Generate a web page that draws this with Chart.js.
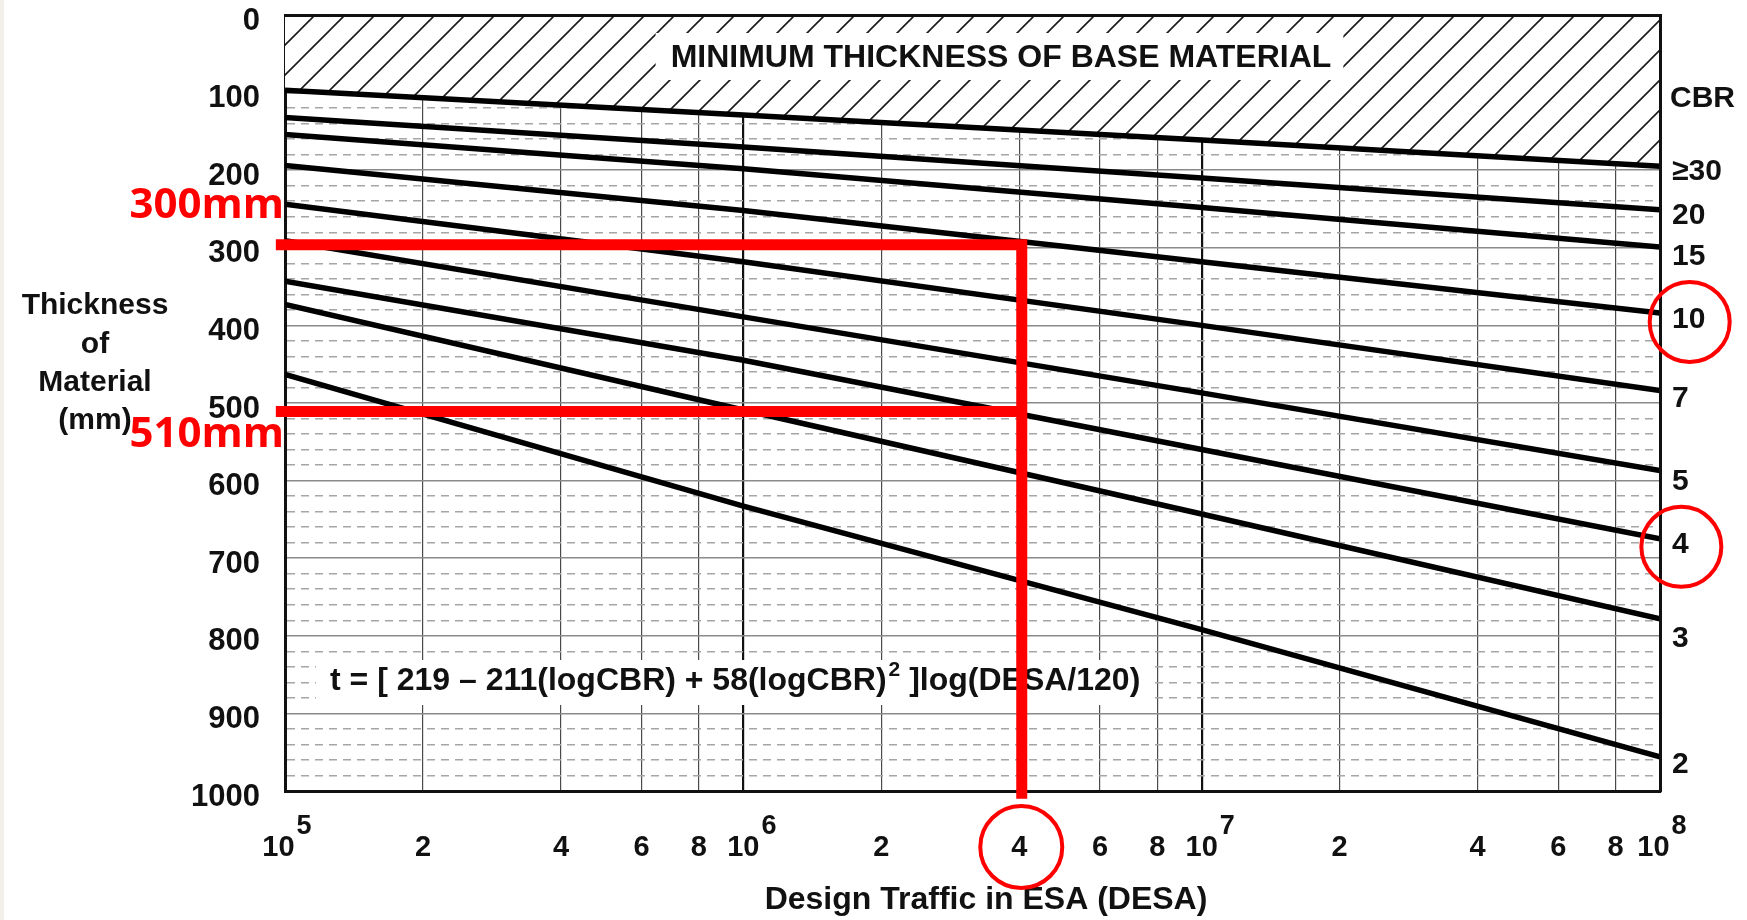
<!DOCTYPE html>
<html>
<head>
<meta charset="utf-8">
<title>Minimum thickness of base material</title>
<script src="https://cdn.jsdelivr.net/npm/chart.js@4.4.1/dist/chart.umd.min.js"></script>
<style>
  html, body { margin: 0; padding: 0; background: #fff; }
  .chart-container { position: relative; width: 1747px; height: 920px; }
</style>
</head>
<body>
<div class="chart-container"><canvas id="chart"></canvas></div>
<script>
var desaPoints = [1e5, 1e6, 1e7, 1e8];

// Thickness of material (mm) for each CBR line, read at desaPoints
var cbrLabels = ['\u226530', '20', '15', '10', '7', '5', '4', '3', '2'];
var cbr30 = [97, 129, 161, 195];
var cbr20 = [132, 170, 210, 251];
var cbr15 = [154, 198, 248, 299];
var cbr10 = [194, 252, 318, 384];
var cbr7 = [244, 318, 400, 484];
var cbr5 = [291, 389, 487, 587];
var cbr4 = [343, 445, 560, 675];
var cbr3 = [373, 509, 643, 778];
var cbr2 = [463, 633, 792, 956];

// x axis ticks (log) and their labels
var desaTicks = [1e5, 2e5, 4e5, 6e5, 8e5, 1e6, 2e6, 4e6, 6e6, 8e6, 1e7, 2e7, 4e7, 6e7, 8e7, 1e8];
var desaTickLabels = ['10^5', '2', '4', '6', '8', '10^6', '2', '4', '6', '8', '10^7', '2', '4', '6', '8', '10^8'];

// worked example drawn in red
var exampleDesa = 4.05e6;
var exampleStartDesa = 0.955e5;
var exampleEndThickness = 1010;
var exampleThickness = [296, 511];
var exampleLabels = ['300mm', '510mm'];
var circledCbr = ['10', '4'];
var circledDesaTick = 4e6;

var FONT = '"Liberation Sans", Arial, sans-serif';
var RED = '#ff0000';

// small vertical nudges for the CBR labels on the right
var cbrLabelOffset = [1, 2, 6, 3, 4, 7, 2, 16, 4];

var cbrSeries = [cbr30, cbr20, cbr15, cbr10, cbr7, cbr5, cbr4, cbr3, cbr2];

function toPoints(values) {
  return desaPoints.map(function (d, i) { return { x: d, y: values[i] }; });
}

function makeHatch(ctx) {
  var c = document.createElement('canvas');
  c.width = 30; c.height = 30;
  var g = c.getContext('2d');
  g.fillStyle = '#fff';
  g.fillRect(0, 0, 30, 30);
  g.strokeStyle = '#1a1a1a';
  g.lineWidth = 1.6;
  g.beginPath();
  g.moveTo(0, 30); g.lineTo(30, 0);
  g.moveTo(-6, 6); g.lineTo(6, -6);
  g.moveTo(24, 36); g.lineTo(36, 24);
  g.stroke();
  return ctx.createPattern(c, 'repeat');
}

function put(ctx, str, x, y, font, align, color) {
  ctx.font = font;
  ctx.textAlign = align;
  ctx.textBaseline = 'middle';
  ctx.fillStyle = color;
  ctx.fillText(str, x, y);
}

function drawBoxes(chart) {
  var ctx = chart.ctx;
  var area = chart.chartArea;
  ctx.save();

  // title over the hatched zone
  var title = 'MINIMUM THICKNESS OF BASE MATERIAL';
  var tf = 'bold 32px ' + FONT;
  ctx.font = tf;
  var tw = ctx.measureText(title).width;
  var cx = area.left + 716, cy = area.top + 43;
  ctx.fillStyle = '#fff';
  ctx.fillRect(cx - tw / 2 - 15, cy - 25, tw + 27, 47);
  put(ctx, title, cx, cy, tf, 'center', '#111');

  // design formula
  var ff = 'bold 32px ' + FONT;
  var sf = 'bold 21px ' + FONT;
  var p1 = 't = [ 219 \u2013 211(logCBR) + 58(logCBR)';
  var p2 = '2';
  var p3 = ' ]log(DESA/120)';
  ctx.font = ff;
  var w1 = ctx.measureText(p1).width;
  var w3 = ctx.measureText(p3).width;
  ctx.font = sf;
  var w2 = ctx.measureText(p2).width;
  var fx = area.left + 45, fy = area.top + 666;
  ctx.fillStyle = '#fff';
  ctx.fillRect(fx - 14, fy - 21, w1 + w2 + w3 + 28, 45);
  put(ctx, p1, fx, fy, ff, 'left', '#111');
  put(ctx, p2, fx + w1 + 2, fy - 11, sf, 'left', '#111');
  put(ctx, p3, fx + w1 + w2 + 2, fy, ff, 'left', '#111');
  ctx.restore();
}

function ring(ctx, x, y, r) {
  ctx.beginPath();
  ctx.arc(x, y, r, 0, Math.PI * 2);
  ctx.strokeStyle = RED;
  ctx.lineWidth = 4;
  ctx.stroke();
}

var chartDecor = {
  id: 'chartDecor',
  beforeDraw: function (chart) {
    var ctx = chart.ctx;
    ctx.save();
    ctx.fillStyle = '#fff';
    ctx.fillRect(0, 0, chart.width, chart.height);
    ctx.fillStyle = '#f3f0ea';
    ctx.fillRect(0, 0, 4, chart.height);
    ctx.restore();
  },
  beforeDatasetDraw: function (chart, args) {
    // the red example lines (datasets 0 and 1) go on top of the boxes
    if (args.index === 1) drawBoxes(chart);
  },
  afterDraw: function (chart) {
    var ctx = chart.ctx;
    var area = chart.chartArea;
    var xs = chart.scales.x, ys = chart.scales.y;
    ctx.save();

    // x tick labels with superscript powers of ten
    var ly = area.bottom + 57;
    var mainF = 'bold 29px ' + FONT, supF = 'bold 27px ' + FONT;
    var circleX = null;
    desaTicks.forEach(function (v, i) {
      var lab = desaTickLabels[i];
      var px = xs.getPixelForValue(v);
      if (lab.indexOf('^') >= 0) {
        var parts = lab.split('^');
        ctx.font = mainF;
        var a = ctx.measureText(parts[0]).width;
        ctx.font = supF;
        var b = ctx.measureText(parts[1]).width;
        var edge = (i === 0 || i === desaTicks.length - 1);
        var x0 = edge ? px - (a + b + 2) / 2 + 2 : px - a / 2;
        put(ctx, parts[0], x0, ly, mainF, 'left', '#111');
        put(ctx, parts[1], x0 + a + 2, ly - 21, supF, 'left', '#111');
      } else {
        put(ctx, lab, px, ly, mainF, 'center', '#111');
      }
      if (v === circledDesaTick) circleX = px;
    });

    // axis titles
    put(ctx, 'Design Traffic in ESA (DESA)', area.left + 701, area.bottom + 109, 'bold 32px ' + FONT, 'center', '#111');
    ['Thickness', 'of', 'Material', '(mm)'].forEach(function (t, i) {
      put(ctx, t, 95, 306 + i * 38.3, 'bold 30px ' + FONT, 'center', '#111');
    });

    // CBR labels at the line ends
    var lf = 'bold 30px ' + FONT;
    var lx = area.right + 12;
    var firstY = null;
    cbrSeries.forEach(function (vals, i) {
      var y = ys.getPixelForValue(vals[vals.length - 1]) + 4 + cbrLabelOffset[i];
      if (i === 0) firstY = y;
      put(ctx, cbrLabels[i], lx, y, lf, 'left', '#111');
      if (circledCbr.indexOf(cbrLabels[i]) >= 0) {
        ctx.font = lf;
        var w = ctx.measureText(cbrLabels[i]).width;
        ring(ctx, lx + w / 2 + 1, y + 2, 40);
      }
    });
    put(ctx, 'CBR', area.right + 10, firstY - 73, lf, 'left', '#111');

    // red example annotations
    var rf = 'bold 42px "Open Sans", sans-serif';
    put(ctx, exampleLabels[0], area.left - 1, ys.getPixelForValue(exampleThickness[0]) - 39, rf, 'right', RED);
    put(ctx, exampleLabels[1], area.left - 1, ys.getPixelForValue(exampleThickness[1]) + 23, rf, 'right', RED);
    if (circleX !== null) ring(ctx, circleX + 2, ly - 1, 41);

    ctx.restore();
  }
};

var canvas = document.getElementById('chart');
var ctx = canvas.getContext('2d');
var hatch = makeHatch(ctx);

var datasets = [
  {
    label: 'example 300',
    data: [
      { x: exampleStartDesa, y: exampleThickness[0] },
      { x: exampleDesa, y: exampleThickness[0] },
      { x: exampleDesa, y: exampleEndThickness }
    ],
    borderColor: RED, borderWidth: 11, borderJoinStyle: 'miter', clip: false, fill: false
  },
  {
    label: 'example 510',
    data: [
      { x: exampleStartDesa, y: exampleThickness[1] },
      { x: exampleDesa, y: exampleThickness[1] }
    ],
    borderColor: RED, borderWidth: 11, clip: false, fill: false
  }
];

cbrSeries.forEach(function (vals, i) {
  datasets.push({
    label: 'CBR ' + cbrLabels[i],
    data: toPoints(vals),
    borderColor: '#000',
    borderWidth: 5.5,
    fill: i === 0 ? 'end' : false,
    backgroundColor: i === 0 ? hatch : 'transparent'
  });
});

new Chart(ctx, {
  type: 'line',
  data: { datasets: datasets },
  options: {
    responsive: true,
    maintainAspectRatio: false,
    animation: false,
    events: [],
    layout: { padding: { left: 185, top: 15, right: 87, bottom: 129 } },
    elements: {
      point: { radius: 0, hoverRadius: 0 },
      line: { tension: 0 }
    },
    plugins: {
      legend: { display: false },
      tooltip: { enabled: false }
    },
    scales: {
      x: {
        type: 'logarithmic',
        min: 1e5,
        max: 1e8,
        afterBuildTicks: function (axis) {
          axis.ticks = desaTicks.map(function (v) { return { value: v }; });
        },
        ticks: { display: false },
        grid: {
          drawTicks: false,
          color: function (c) {
            var v = c.tick ? c.tick.value : 0;
            return Math.abs(Math.log10(v) % 1) < 1e-9 ? '#111' : '#4a4a4a';
          },
          lineWidth: function (c) {
            var v = c.tick ? c.tick.value : 0;
            return Math.abs(Math.log10(v) % 1) < 1e-9 ? 2.2 : 1.2;
          }
        },
        border: { color: '#111', width: 3 }
      },
      y: {
        type: 'linear',
        reverse: true,
        min: 0,
        max: 1000,
        afterFit: function (scale) {
          scale.width = 100;
          // keep the end labels from pushing the plot area inward
          scale.paddingTop = 0;
          scale.paddingBottom = 0;
        },
        ticks: {
          stepSize: 20,
          autoSkip: false,
          padding: 25,
          labelOffset: 6,
          color: '#111',
          font: { family: FONT, size: 31, weight: 'bold' },
          callback: function (v) { return v % 100 === 0 ? String(v) : ''; }
        },
        grid: {
          drawTicks: false,
          color: function (c) {
            return c.tick && c.tick.value % 100 === 0 ? '#8a8a8a' : '#a6a6a6';
          },
          lineWidth: 1.5
        },
        border: {
          color: '#111',
          width: 3,
          dash: function (c) {
            return c.tick && c.tick.value % 100 !== 0 ? [8, 6] : [];
          }
        }
      },
      xTop: {
        type: 'linear',
        position: 'top',
        ticks: { display: false },
        grid: { display: false, drawTicks: false },
        border: { color: '#111', width: 3, z: 1 }
      },
      yRight: {
        type: 'linear',
        position: 'right',
        ticks: { display: false },
        grid: { display: false, drawTicks: false },
        border: { color: '#111', width: 3, z: 1 }
      }
    }
  },
  plugins: [chartDecor]
});
</script>
</body>
</html>
